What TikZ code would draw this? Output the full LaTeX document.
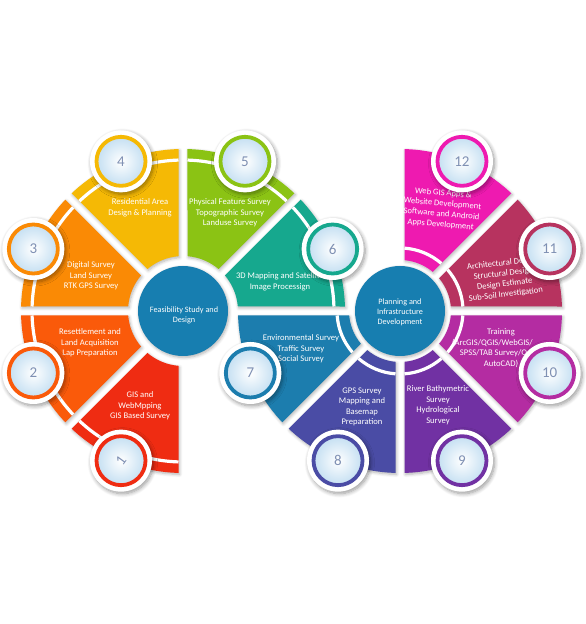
\documentclass[tikz,border=0pt]{standalone}
\usepackage{fontspec}
\usepackage{graphicx}
\setmainfont{Carlito}
\usetikzlibrary{calc,shadows.blur}
\definecolor{c1}{HTML}{EF2C12}
\definecolor{c2}{HTML}{FA5A0A}
\definecolor{c3}{HTML}{FA8A05}
\definecolor{c4}{HTML}{F5B905}
\definecolor{c5}{HTML}{8BC314}
\definecolor{c6}{HTML}{16A88E}
\definecolor{c7}{HTML}{1C7DAE}
\definecolor{c8}{HTML}{4A4CA5}
\definecolor{c9}{HTML}{7131A3}
\definecolor{c10}{HTML}{B42CA2}
\definecolor{c11}{HTML}{B7335F}
\definecolor{c12}{HTML}{EE1AB0}
\definecolor{hub}{HTML}{177EB0}
\definecolor{rimblue}{HTML}{C4DFF2}
\definecolor{numcol}{HTML}{7F90B3}
\tikzset{
  segment/.style={blur shadow={shadow xshift=1pt, shadow yshift=-1.5pt, shadow blur radius=3pt, shadow opacity=30, shadow blur steps=6}},
  stripe/.style={white, line width=3.2pt},
  hubcircle/.style={circle, fill=hub, minimum size=90pt, inner sep=0pt,
    blur shadow={shadow xshift=1pt, shadow yshift=-1.5pt, shadow blur radius=3pt, shadow opacity=30, shadow blur steps=6}},
  hubtext/.style={text=white, font=\fontsize{8.2}{10}\selectfont, align=center, inner sep=0pt},
  seglabel/.style={text=white, font=\fontsize{8.6}{10.5}\selectfont, align=center, inner sep=0pt},
  numdisc/.style={circle, fill=white, minimum size=62pt, inner sep=0pt,
    blur shadow={shadow xshift=1.5pt, shadow yshift=-2pt, shadow blur radius=4pt, shadow opacity=40, shadow blur steps=8}},
  numring/.style={circle, minimum size=49pt, inner sep=0pt, line width=3.8pt,
    inner color=white, outer color=rimblue, shade, text=numcol,
    font=\fontsize{15}{15}\selectfont}
}
\newcommand\segfill[6]{%
  \pgfmathsetmacro\wdO{asin(4.5/#5)}%
  \pgfmathsetmacro\wdI{asin(4.5/#4)}%
  \fill[segment, fill=#6] ($(#1)+({#2+\wdO}:#5)$) arc[start angle={#2+\wdO}, end angle={#3-\wdO}, radius=#5]
    -- ($(#1)+({#3-\wdI}:#4)$) arc[start angle={#3-\wdI}, end angle={#2+\wdI}, radius=#4] -- cycle;}
\newcommand\segstripe[4]{%
  \pgfmathsetmacro\wdS{asin(4.5/#4)}%
  \draw[stripe] ($(#1)+({#2+\wdS}:#4)$) arc[start angle={#2+\wdS}, end angle={#3-\wdS}, radius=#4];}
\newcommand\numcircle[5]{%
  \node[numdisc] (#1) at ($(#2)+(#3:162)$) {};
  \node[numring, draw=#4] at (#1) {#5};}
\begin{document}
\begin{tikzpicture}[x=1pt,y=1pt]
\useasboundingbox (0,0) rectangle (586,624);
\coordinate (CL) at (183,313);
\coordinate (CR) at (400,313);
% left cluster segments
\segfill{CL}{225}{270}{55}{162}{c1}
\segfill{CL}{180}{225}{55}{162}{c2}
\segfill{CL}{135}{180}{55}{162}{c3}
\segfill{CL}{90}{135}{55}{162}{c4}
\segfill{CL}{45}{90}{55}{162}{c5}
\segfill{CL}{0}{45}{55}{162}{c6}
% right cluster segments
\segfill{CR}{180}{225}{51}{162}{c7}
\segfill{CR}{225}{270}{51}{162}{c8}
\segfill{CR}{270}{315}{51}{162}{c9}
\segfill{CR}{315}{360}{51}{162}{c10}
\segfill{CR}{0}{45}{51}{162}{c11}
\segfill{CR}{45}{90}{51}{162}{c12}
% white stripes
\foreach \a in {0,45,90,135,180,225} {\segstripe{CL}{\a}{\a+45}{151}}
\foreach \a in {-45,0,45,180,225,270} {\segstripe{CR}{\a}{\a+45}{63}}
% hubs
\node[hubcircle] (hubL) at (CL) {};
\node[hubcircle] (hubR) at (CR) {};
\node[hubtext] (hubLtext) at (184,309) {Feasibility Study and\\Design};
\node[hubtext] (hubRtext) at (400,312) {Planning and\\Infrastructure\\Development};
% segment labels
\node[seglabel] (t1) at (140,218) {GIS and\\WebMpping\\GIS Based Survey};
\node[seglabel] (t2) at (90,281) {Resettlement and\\Land Acquisition\\Lap Preparation};
\node[seglabel] (t3) at (91,348) {Digital Survey\\Land Survey\\RTK GPS Survey};
\node[seglabel] (t4) at (140,416) {Residential Area\\Design \& Planning};
\node[seglabel] (t5) at (230,411) {Physical Feature Survey\\Topographic Survey\\Landuse Survey};
\node[seglabel] (t6) at (280,342) {3D Mapping and Satellite\\Image Processign};
\node[seglabel] (t7) at (301,275) {Environmental Survey\\Traffic Survey\\Social Survey};
\node[seglabel] (t8) at (362,217) {GPS Survey\\Mapping and\\Basemap\\Preparation};
\node[seglabel] (t9) at (438,219) {River Bathymetric\\Survey\\Hydrological\\Survey};
\node[seglabel] (t10) at (501,276) {Training\\(ArcGIS/QGIS/WebGIS/\hphantom{GPS/}\\SPSS/TAB Survey/Q\hphantom{GIS/}\\AutoCAD)};
\node[seglabel, rotate=7] (t11) at (504,345) {Architectural Design\\Structural Design\\Design Estimate\\Sub-Soil Investigation};
\node[seglabel, rotate=-5] (t12) at (442,415) {Web GIS Apps \&\\Website Development\\Software and Android\\Apps Development};
% number circles
\numcircle{n1}{CL}{247.5}{c1}{\rotatebox{54}{1}}
\numcircle{n2}{CL}{202.5}{c2}{2}
\numcircle{n3}{CL}{157.5}{c3}{3}
\numcircle{n4}{CL}{112.5}{c4}{4}
\numcircle{n5}{CL}{67.5}{c5}{5}
\numcircle{n6}{CL}{22.5}{c6}{6}
\numcircle{n7}{CR}{202.5}{c7}{7}
\numcircle{n8}{CR}{247.5}{c8}{8}
\numcircle{n9}{CR}{292.5}{c9}{9}
\numcircle{n10}{CR}{337.5}{c10}{10}
\numcircle{n11}{CR}{22.5}{c11}{11}
\numcircle{n12}{CR}{67.5}{c12}{12}
\end{tikzpicture}
\end{document}
